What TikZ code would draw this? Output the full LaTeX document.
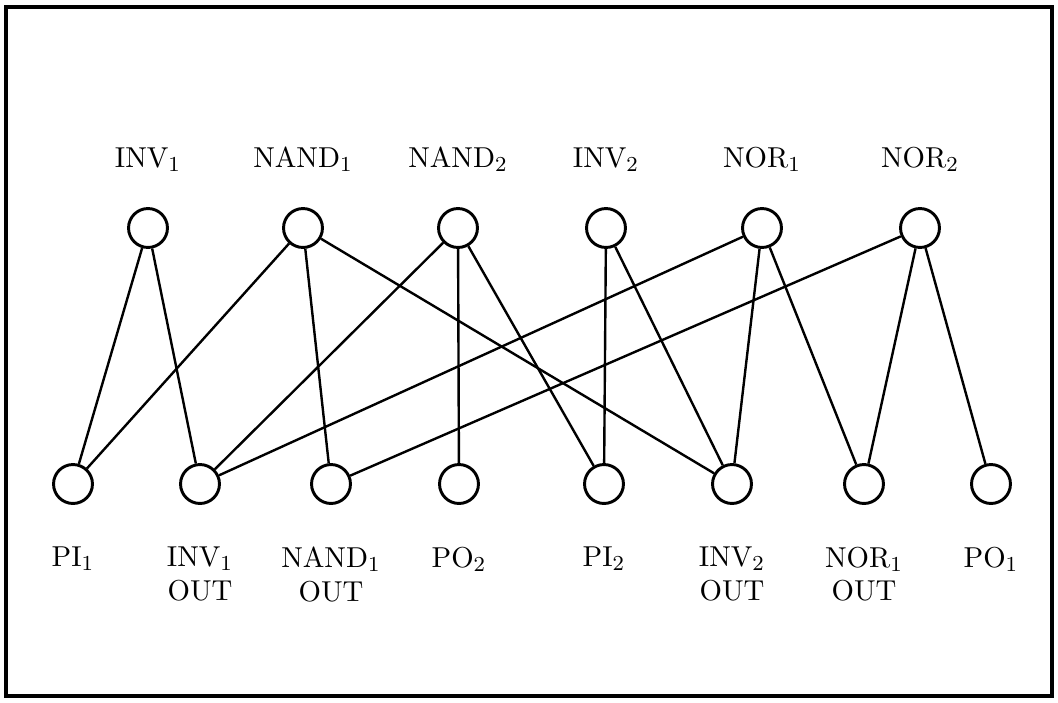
\documentclass[tikz,border=0pt]{standalone}
\usepackage{tikz}
\usetikzlibrary{positioning}

\begin{document}
\begin{tikzpicture}[
                x=0.375pt, y=-0.375pt,
                vtx/.style={circle, draw, line width=1.1pt, minimum size=14.6pt, inner sep=0pt},
                lbl/.style={font=\fontsize{10.8}{12.6}\selectfont, align=center, inner sep=0pt},
                wire/.style={line width=0.9pt}
            ]
                \useasboundingbox (0,0) rectangle (1058,702);
                \draw[line width=1.7pt] (6,7) rectangle (1052,696);
                % gates
                \node[vtx] (inv1)  at (148,228) {};
                \node[vtx] (nand1) at (303,228) {};
                \node[vtx] (nand2) at (458,228) {};
                \node[vtx] (inv2)  at (606,228) {};
                \node[vtx] (nor1)  at (762,228) {};
                \node[vtx] (nor2)  at (920,228) {};
                % nets
                \node[vtx] (pi1)      at (73,484)  {};
                \node[vtx] (inv1out)  at (200,484) {};
                \node[vtx] (nand1out) at (331,484) {};
                \node[vtx] (po2)      at (459,484) {};
                \node[vtx] (pi2)      at (604,484) {};
                \node[vtx] (inv2out)  at (732,484) {};
                \node[vtx] (nor1out)  at (864,484) {};
                \node[vtx] (po1)      at (991,484) {};
                % labels
                \node[lbl, above=13pt of inv1]  (linv1)  {INV$_1$};
                \node[lbl, above=13pt of nand1] (lnand1) {NAND$_1$};
                \node[lbl, above=13pt of nand2] (lnand2) {NAND$_2$};
                \node[lbl, above=13pt of inv2]  (linv2)  {INV$_2$};
                \node[lbl, above=13pt of nor1]  (lnor1)  {NOR$_1$};
                \node[lbl, above=13pt of nor2]  (lnor2)  {NOR$_2$};
                \node[lbl, below=15.5pt of pi1]      (lpi1)      {PI$_1$};
                \node[lbl, below=15.5pt of inv1out]  (linv1out)  {INV$_1$\\OUT};
                \node[lbl, below=15.5pt of nand1out] (lnand1out) {NAND$_1$\\OUT};
                \node[lbl, below=15.5pt of po2]      (lpo2)      {PO$_2$};
                \node[lbl, below=15.5pt of pi2]      (lpi2)      {PI$_2$};
                \node[lbl, below=15.5pt of inv2out]  (linv2out)  {INV$_2$\\OUT};
                \node[lbl, below=15.5pt of nor1out]  (lnor1out)  {NOR$_1$\\OUT};
                \node[lbl, below=15.5pt of po1]      (lpo1)      {PO$_1$};
                % connections
                \draw[wire] (inv1) -- (pi1)  (inv1) -- (inv1out);
                \draw[wire] (nand1) -- (pi1)  (nand1) -- (nand1out)  (nand1) -- (inv2out);
                \draw[wire] (nand2) -- (inv1out)  (nand2) -- (po2)  (nand2) -- (pi2);
                \draw[wire] (inv2) -- (pi2)  (inv2) -- (inv2out);
                \draw[wire] (nor1) -- (inv1out)  (nor1) -- (inv2out)  (nor1) -- (nor1out);
                \draw[wire] (nor2) -- (nand1out)  (nor2) -- (nor1out)  (nor2) -- (po1);
            \end{tikzpicture}
\end{document}
